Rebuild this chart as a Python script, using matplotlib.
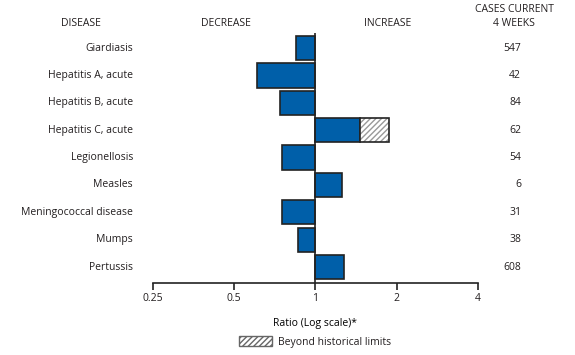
import matplotlib
matplotlib.use('Agg')
import matplotlib.pyplot as plt
import matplotlib.transforms as mtransforms
from matplotlib.patches import Patch
import numpy as np

diseases = ['Giardiasis', 'Hepatitis A, acute', 'Hepatitis B, acute', 'Hepatitis C, acute',
            'Legionellosis', 'Measles', 'Meningococcal disease', 'Mumps', 'Pertussis']
ratios = [0.85, 0.61, 0.74, 1.46, 0.75, 1.26, 0.755, 0.86, 1.28]
beyond = [None, None, None, 1.88, None, None, None, None, None]
cases = ['547', '42', '84', '62', '54', '6', '31', '38', '608']
ticks = [0.25, 0.5, 1, 2, 4]
tick_labels = ['0.25', '0.5', '1', '2', '4']

plt.rcParams['font.family'] = ['Open Sans', 'DejaVu Sans']
plt.rcParams['font.size'] = 7
plt.rcParams['text.color'] = '#231f20'

blue = '#005fa9'
dark = '#222222'

fig = plt.figure(figsize=(5.75, 3.55), dpi=100)
ax = fig.add_axes([0.266, 0.203, 0.565, 0.704])

y = np.arange(len(diseases))
h = 0.89
for i, r in enumerate(ratios):
    lo, hi = min(r, 1), max(r, 1)
    ax.barh(y[i], hi - lo, left=lo, height=h, color=blue, edgecolor=dark, linewidth=1.2)
    if beyond[i] is not None:
        ax.barh(y[i], beyond[i] - r, left=r, height=h, color='white', edgecolor='#999999',
                hatch='//////', linewidth=0)
        ax.barh(y[i], beyond[i] - r, left=r, height=h, fill=False, edgecolor=dark, linewidth=1.2)

ax.set_xscale('log', base=2)
ax.set_xlim(0.25, 4)
ax.set_ylim(8.58, -0.55)
ax.set_xticks(ticks)
ax.set_xticklabels(tick_labels)
ax.minorticks_off()
ax.set_yticks([])
for s in ['top', 'right', 'left']:
    ax.spines[s].set_visible(False)
ax.spines['bottom'].set_linewidth(1.2)
ax.spines['bottom'].set_color(dark)
ax.tick_params(axis='x', length=5, width=1.2, color=dark, pad=2.5, labelsize=7.5,
               labelcolor='#231f20')
ax.axvline(1, color=dark, linewidth=1.2, zorder=5)
ax.set_xlabel('Ratio (Log scale)*', fontsize=7.5, labelpad=10)

tr = mtransforms.blended_transform_factory(fig.transFigure, ax.transData)
for i in range(len(diseases)):
    ax.text(133 / 575, y[i], diseases[i], transform=tr, ha='right', va='center', fontsize=7.5)
    ax.text(521 / 575, y[i], cases[i], transform=tr, ha='right', va='center', fontsize=7.5)

fig.text(81 / 575, 1 - 23 / 355, 'DISEASE', ha='center', va='center', fontsize=7.5)
fig.text(226 / 575, 1 - 23 / 355, 'DECREASE', ha='center', va='center', fontsize=7.5)
fig.text(388 / 575, 1 - 23 / 355, 'INCREASE', ha='center', va='center', fontsize=7.5)
fig.text(514 / 575, 1 - 9.5 / 355, 'CASES CURRENT', ha='center', va='center', fontsize=7.5)
fig.text(514 / 575, 1 - 23.5 / 355, '4 WEEKS', ha='center', va='center', fontsize=7.5)

fig.legend(handles=[Patch(facecolor='white', edgecolor='#666666', hatch='//////')],
           labels=['Beyond historical limits'], loc='center',
           bbox_to_anchor=(315 / 575, 1 - 342 / 355), frameon=False,
           handlelength=3.2, handleheight=1.1, handletextpad=0.5, fontsize=7.5)

fig.savefig('out.png', dpi=100)
